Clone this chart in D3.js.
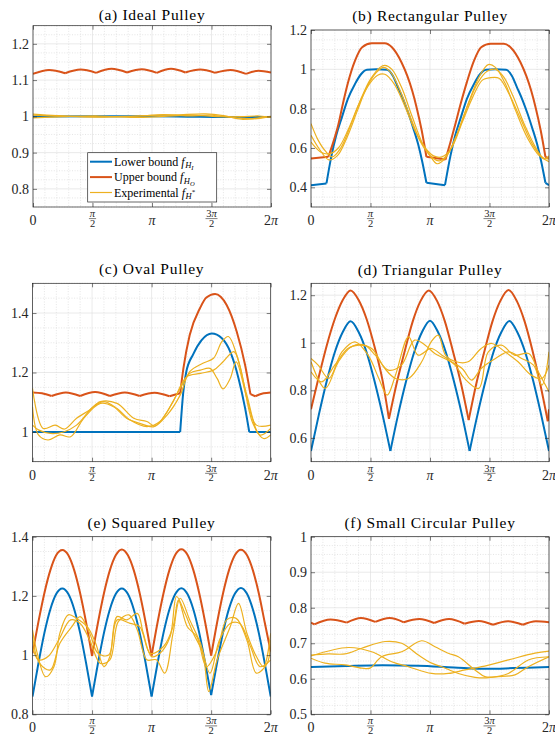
<!DOCTYPE html>
<html>
<head>
<meta charset="utf-8">
<script src="https://cdn.jsdelivr.net/npm/d3@7"></script>
</head>
<body style="margin:0">
<svg id="fig" width="555" height="740" font-family="Liberation Serif"></svg>
<script>
// x values are in units of pi (0..2)
var piTicks = [0, 0.5, 1, 1.5, 2];
var piLabels = [["0"], ["π", "2"], ["π"], ["3π", "2"], ["2π"]];

var titles = ["(a) Ideal Pulley", "(b) Rectangular Pulley", "(c) Oval Pulley",
  "(d) Triangular Pulley", "(e) Squared Pulley", "(f) Small Circular Pulley"];

var yDomains = [[0.75, 1.25], [0.3, 1.2], [0.9, 1.5], [0.5, 1.25], [0.8, 1.4], [0.5, 1]];
var yTicks = [
  [0.8, 0.9, 1, 1.1, 1.2],
  [0.4, 0.6, 0.8, 1, 1.2],
  [1, 1.2, 1.4],
  [0.6, 0.8, 1, 1.2],
  [0.8, 1, 1.2, 1.4],
  [0.5, 0.6, 0.7, 0.8, 0.9, 1]
];
var yMinor = [0.025, 0.05, 0.05, 0.05, 0.05, 0.025];

var legendLabels = ["Lower bound", "Upper bound", "Experimental"];

// (a) ideal
var lowerA = [[[0, 0.999], [0.5, 1.0], [1.0, 1.0], [1.3, 0.999], [1.6, 0.998], [2.0, 0.998]]];
var upperA = [
  [[0, 1.117], [0.135, 1.128], [0.27, 1.119]],
  [[0.27, 1.119], [0.40, 1.129], [0.53, 1.120]],
  [[0.53, 1.120], [0.66, 1.131], [0.79, 1.121]],
  [[0.79, 1.121], [0.915, 1.130], [1.04, 1.120]],
  [[1.04, 1.120], [1.16, 1.131], [1.28, 1.121]],
  [[1.28, 1.121], [1.405, 1.129], [1.53, 1.120]],
  [[1.53, 1.120], [1.66, 1.128], [1.79, 1.117]],
  [[1.79, 1.117], [1.895, 1.126], [2.0, 1.121]]
];
var expA = [
  [[0, 1.006], [0.2, 1.002], [0.5, 0.999], [0.8, 1.0], [1.0, 1.003], [1.2, 1.004], [1.45, 1.007], [1.6, 1.002], [1.75, 0.992], [1.9, 0.996], [2.0, 1.0]],
  [[0, 1.003], [0.3, 1.0], [0.6, 0.998], [0.9, 1.001], [1.1, 1.005], [1.3, 1.001], [1.5, 1.003], [1.7, 0.996], [1.85, 0.993], [2.0, 0.999]],
  [[0, 0.996], [0.25, 0.999], [0.55, 1.001], [0.85, 0.997], [1.1, 1.0], [1.35, 1.003], [1.55, 0.999], [1.75, 0.999], [1.9, 1.001], [2.0, 0.997]]
];

// (b) rectangular
var lowerB = [
  [[0, 0.411], [0.13, 0.42]],
  [[0.13, 0.42], [0.17, 0.555], [0.21, 0.66], [0.26, 0.757], [0.31, 0.85], [0.37, 0.926], [0.42, 0.975], [0.47, 0.998], [0.55, 1.0], [0.64, 0.998], [0.69, 0.965], [0.73, 0.91], [0.78, 0.84], [0.82, 0.774], [0.86, 0.70], [0.90, 0.62], [0.935, 0.53], [0.97, 0.423]],
  [[0.97, 0.423], [1.126, 0.411]],
  [[1.126, 0.411], [1.17, 0.555], [1.21, 0.66], [1.26, 0.757], [1.31, 0.85], [1.37, 0.926], [1.42, 0.975], [1.47, 0.998], [1.55, 1.0], [1.64, 0.998], [1.69, 0.965], [1.73, 0.91], [1.78, 0.84], [1.82, 0.774], [1.86, 0.70], [1.90, 0.62], [1.935, 0.53], [1.97, 0.423]],
  [[1.97, 0.423], [2.0, 0.411]]
];
var upperB = [
  [[0, 0.546], [0.146, 0.555]],
  [[0.146, 0.555], [0.19, 0.635], [0.23, 0.72], [0.27, 0.83], [0.31, 0.93], [0.37, 1.044], [0.43, 1.112], [0.51, 1.132], [0.62, 1.132], [0.68, 1.112], [0.76, 1.036], [0.81, 0.965], [0.85, 0.892], [0.89, 0.80], [0.93, 0.69], [0.97, 0.555]],
  [[0.97, 0.555], [1.13, 0.541]],
  [[1.13, 0.541], [1.17, 0.625], [1.21, 0.715], [1.26, 0.83], [1.31, 0.935], [1.37, 1.044], [1.43, 1.112], [1.51, 1.13], [1.62, 1.13], [1.68, 1.11], [1.76, 1.036], [1.81, 0.965], [1.85, 0.892], [1.89, 0.80], [1.93, 0.69], [1.97, 0.555]],
  [[1.97, 0.555], [2.0, 0.546]]
];
var expB = [
  [[0, 0.724], [0.06, 0.64], [0.12, 0.585], [0.18, 0.555], [0.25, 0.6], [0.33, 0.71], [0.42, 0.85], [0.5, 0.95], [0.58, 1.01], [0.62, 1.02], [0.68, 1.0], [0.76, 0.91], [0.85, 0.76], [0.94, 0.62], [1.02, 0.55], [1.08, 0.535], [1.15, 0.57], [1.24, 0.69], [1.33, 0.84], [1.42, 0.97], [1.49, 1.024], [1.55, 1.01], [1.63, 0.93], [1.72, 0.79], [1.82, 0.65], [1.92, 0.56], [2.0, 0.53]],
  [[0, 0.665], [0.07, 0.595], [0.15, 0.54], [0.22, 0.56], [0.3, 0.65], [0.39, 0.79], [0.47, 0.91], [0.55, 0.985], [0.61, 1.01], [0.67, 0.985], [0.75, 0.89], [0.84, 0.75], [0.93, 0.62], [1.0, 0.56], [1.06, 0.52], [1.13, 0.55], [1.22, 0.66], [1.3, 0.79], [1.4, 0.93], [1.48, 0.99], [1.55, 1.0], [1.62, 0.96], [1.7, 0.86], [1.8, 0.71], [1.9, 0.59], [1.96, 0.545], [2.0, 0.56]],
  [[0, 0.63], [0.08, 0.58], [0.15, 0.57], [0.23, 0.6], [0.31, 0.69], [0.4, 0.82], [0.49, 0.925], [0.56, 0.97], [0.62, 0.975], [0.7, 0.925], [0.79, 0.81], [0.88, 0.68], [0.96, 0.6], [1.03, 0.56], [1.1, 0.555], [1.18, 0.6], [1.27, 0.73], [1.36, 0.86], [1.44, 0.945], [1.5, 0.957], [1.58, 0.955], [1.66, 0.88], [1.76, 0.75], [1.86, 0.62], [1.95, 0.55], [2.0, 0.545]]
];

// (c) oval
var lowerC = [
  [[0, 1.0], [1.24, 1.0]],
  [[1.24, 1.0], [1.265, 1.13], [1.29, 1.2], [1.35, 1.262], [1.42, 1.309], [1.505, 1.331], [1.59, 1.315], [1.66, 1.27], [1.73, 1.18], [1.785, 1.08], [1.82, 1.0]],
  [[1.82, 1.0], [2.0, 1.0]]
];
var upperC = [
  [[0, 1.133], [0.08, 1.13], [0.16, 1.121]],
  [[0.16, 1.121], [0.28, 1.133], [0.4, 1.121]],
  [[0.4, 1.121], [0.525, 1.134], [0.65, 1.121]],
  [[0.65, 1.121], [0.775, 1.133], [0.9, 1.121]],
  [[0.9, 1.121], [1.025, 1.132], [1.15, 1.12]],
  [[1.15, 1.12], [1.2, 1.126], [1.24, 1.13]],
  [[1.24, 1.13], [1.267, 1.214], [1.32, 1.326], [1.407, 1.417], [1.46, 1.452], [1.533, 1.464], [1.58, 1.455], [1.63, 1.427], [1.715, 1.337], [1.785, 1.225], [1.83, 1.127]],
  [[1.83, 1.127], [1.87, 1.12]],
  [[1.87, 1.12], [1.94, 1.13], [2.0, 1.133]]
];
var expC = [
  [[0, 1.147], [0.09, 1.012], [0.19, 1.023], [0.27, 1.01], [0.37, 1.046], [0.48, 1.074], [0.57, 1.102], [0.71, 1.096], [0.85, 1.046], [0.96, 1.035], [1.03, 1.02], [1.13, 1.068], [1.24, 1.147], [1.32, 1.197], [1.41, 1.208], [1.49, 1.214], [1.55, 1.18], [1.6, 1.145], [1.66, 1.18], [1.71, 1.236], [1.8, 1.113], [1.88, 1.023], [2.0, 1.023]],
  [[0, 1.085], [0.05, 0.99], [0.13, 0.973], [0.23, 0.99], [0.32, 0.984], [0.43, 1.046], [0.57, 1.096], [0.68, 1.085], [0.79, 1.046], [0.9, 1.029], [1.02, 1.018], [1.13, 1.057], [1.24, 1.124], [1.32, 1.203], [1.43, 1.231], [1.52, 1.248], [1.59, 1.304], [1.645, 1.321], [1.715, 1.259], [1.8, 1.124], [1.91, 0.99], [2.0, 1.012]],
  [[0, 1.023], [0.05, 1.007], [0.15, 0.995], [0.26, 1.0], [0.37, 1.023], [0.51, 1.085], [0.6, 1.102], [0.71, 1.079], [0.82, 1.04], [0.96, 1.018], [1.07, 1.035], [1.18, 1.102], [1.295, 1.186], [1.41, 1.197], [1.52, 1.208], [1.6, 1.236], [1.69, 1.27], [1.74, 1.225], [1.85, 1.029], [1.94, 0.978], [2.0, 0.99]]
];

// (d) triangular
var lowerD = [
  [[0, 0.545], [0.067, 0.70], [0.133, 0.84], [0.2, 0.96], [0.267, 1.045], [0.333, 1.09], [0.4, 1.045], [0.467, 0.96], [0.533, 0.84], [0.6, 0.70], [0.667, 0.545]],
  [[0.667, 0.545], [0.733, 0.70], [0.8, 0.84], [0.867, 0.96], [0.933, 1.045], [1.0, 1.093], [1.067, 1.045], [1.133, 0.96], [1.2, 0.84], [1.267, 0.70], [1.333, 0.545]],
  [[1.333, 0.545], [1.4, 0.70], [1.467, 0.84], [1.533, 0.96], [1.6, 1.045], [1.667, 1.092], [1.733, 1.045], [1.8, 0.96], [1.867, 0.84], [1.933, 0.70], [2.0, 0.545]]
];
var upperD = [
  [[0, 0.72], [0.067, 0.86], [0.133, 0.99], [0.2, 1.1], [0.267, 1.18], [0.333, 1.22], [0.4, 1.18], [0.467, 1.1], [0.533, 0.985], [0.6, 0.845], [0.655, 0.68]],
  [[0.655, 0.68], [0.72, 0.83], [0.79, 0.97], [0.855, 1.09], [0.92, 1.175], [0.99, 1.22], [1.06, 1.175], [1.125, 1.09], [1.19, 0.97], [1.26, 0.83], [1.325, 0.675]],
  [[1.325, 0.675], [1.39, 0.83], [1.46, 0.97], [1.525, 1.09], [1.59, 1.175], [1.66, 1.222], [1.73, 1.175], [1.795, 1.09], [1.86, 0.97], [1.925, 0.83], [1.99, 0.67]],
  [[1.99, 0.67], [2.0, 0.72]]
];
var expD = [
  [[0, 0.934], [0.06, 0.906], [0.15, 0.85], [0.26, 0.962], [0.37, 1.004], [0.48, 0.948], [0.57, 0.85], [0.64, 0.78], [0.71, 0.864], [0.82, 1.025], [0.9, 0.948], [1.01, 0.976], [1.1, 0.948], [1.21, 0.906], [1.29, 0.85], [1.41, 0.808], [1.49, 0.962], [1.6, 0.99], [1.71, 0.948], [1.83, 0.955], [1.91, 0.878], [2.0, 0.794]],
  [[0, 0.878], [0.09, 0.836], [0.2, 0.906], [0.31, 0.976], [0.4, 0.99], [0.51, 0.976], [0.62, 0.892], [0.71, 0.85], [0.82, 0.85], [0.93, 0.92], [1.01, 1.004], [1.07, 1.032], [1.13, 0.948], [1.22, 0.92], [1.32, 0.92], [1.43, 0.976], [1.52, 0.997], [1.63, 0.962], [1.74, 0.92], [1.85, 0.864], [1.94, 0.85], [2.0, 0.906]],
  [[0, 0.92], [0.12, 0.808], [0.23, 0.92], [0.34, 0.983], [0.45, 0.99], [0.54, 0.948], [0.65, 0.885], [0.76, 0.906], [0.87, 1.011], [0.96, 0.99], [1.04, 0.955], [1.15, 0.927], [1.27, 0.892], [1.35, 0.843], [1.43, 0.892], [1.55, 0.934], [1.66, 0.962], [1.77, 0.934], [1.87, 0.906], [1.94, 0.822], [2.0, 0.962]]
];

// (e) squared
var lowerE = [
  [[0, 0.86], [0.05, 0.973], [0.1, 1.075], [0.15, 1.155], [0.2, 1.207], [0.25, 1.225], [0.3, 1.207], [0.35, 1.155], [0.4, 1.075], [0.45, 0.973], [0.5, 0.86]],
  [[0.5, 0.86], [0.55, 0.973], [0.6, 1.075], [0.65, 1.155], [0.7, 1.207], [0.75, 1.225], [0.8, 1.207], [0.85, 1.155], [0.9, 1.075], [0.95, 0.973], [1.0, 0.86]],
  [[1.0, 0.86], [1.05, 0.973], [1.1, 1.075], [1.15, 1.155], [1.2, 1.207], [1.25, 1.226], [1.3, 1.207], [1.35, 1.155], [1.4, 1.075], [1.45, 0.973], [1.5, 0.865]],
  [[1.5, 0.865], [1.55, 0.975], [1.6, 1.077], [1.65, 1.157], [1.7, 1.208], [1.75, 1.227], [1.8, 1.208], [1.85, 1.155], [1.9, 1.075], [1.95, 0.973], [2.0, 0.86]]
];
var upperE = [
  [[0, 1.006], [0.05, 1.113], [0.1, 1.21], [0.15, 1.287], [0.2, 1.338], [0.25, 1.355], [0.3, 1.338], [0.35, 1.287], [0.4, 1.209], [0.45, 1.11], [0.5, 0.997]],
  [[0.5, 0.997], [0.55, 1.11], [0.6, 1.209], [0.65, 1.287], [0.7, 1.338], [0.75, 1.357], [0.8, 1.338], [0.85, 1.287], [0.9, 1.209], [0.95, 1.11], [1.0, 0.998]],
  [[1.0, 0.998], [1.05, 1.11], [1.1, 1.209], [1.15, 1.288], [1.2, 1.34], [1.25, 1.358], [1.3, 1.34], [1.35, 1.288], [1.4, 1.209], [1.45, 1.11], [1.5, 0.998]],
  [[1.5, 0.998], [1.55, 1.11], [1.6, 1.209], [1.65, 1.287], [1.7, 1.338], [1.75, 1.356], [1.8, 1.338], [1.85, 1.287], [1.9, 1.209], [1.95, 1.11], [2.0, 1.012]]
];
var expE = [
  [[0, 1.085], [0.04, 1.006], [0.11, 0.927], [0.18, 0.961], [0.23, 1.074], [0.3, 1.136], [0.37, 1.124], [0.46, 1.096], [0.53, 1.04], [0.6, 0.961], [0.65, 0.995], [0.71, 1.13], [0.79, 1.119], [0.88, 1.141], [0.93, 1.074], [1.0, 0.995], [1.07, 1.006], [1.155, 1.062], [1.21, 1.198], [1.28, 1.141], [1.35, 1.074], [1.43, 1.006], [1.48, 0.877], [1.55, 0.984], [1.66, 1.096], [1.73, 1.175], [1.8, 1.074], [1.88, 0.995], [1.94, 0.961], [2.0, 1.074]],
  [[0, 1.062], [0.06, 0.972], [0.15, 0.95], [0.23, 1.04], [0.33, 1.096], [0.4, 1.13], [0.48, 1.074], [0.55, 1.006], [0.64, 1.0], [0.71, 1.119], [0.82, 1.107], [0.9, 1.096], [0.99, 1.006], [1.1, 1.029], [1.18, 1.096], [1.225, 1.186], [1.3, 1.096], [1.38, 1.062], [1.46, 0.961], [1.55, 1.017], [1.63, 1.119], [1.71, 1.124], [1.8, 1.051], [1.88, 0.939], [1.97, 0.972], [2.0, 1.051]],
  [[0, 1.029], [0.05, 0.984], [0.13, 0.995], [0.22, 1.051], [0.32, 1.119], [0.4, 1.107], [0.48, 1.051], [0.57, 0.972], [0.65, 0.984], [0.72, 1.113], [0.81, 1.136], [0.88, 1.085], [0.96, 0.984], [1.04, 0.984], [1.11, 0.939], [1.18, 1.074], [1.24, 1.192], [1.32, 1.119], [1.41, 1.04], [1.49, 0.939], [1.57, 1.051], [1.66, 1.107], [1.74, 1.107], [1.83, 1.029], [1.91, 0.961], [2.0, 0.984]]
];

// (f) small circular
var lowerF = [[[0, 0.633], [0.3, 0.636], [0.6, 0.638], [0.9, 0.637], [1.2, 0.632], [1.5, 0.628], [1.7, 0.63], [2.0, 0.633]]];
var upperF = [
  [[0, 0.758], [0.028, 0.753]],
  [[0.028, 0.753], [0.164, 0.767], [0.3, 0.758]],
  [[0.3, 0.758], [0.42, 0.771], [0.54, 0.76]],
  [[0.54, 0.76], [0.66, 0.771], [0.78, 0.759]],
  [[0.78, 0.759], [0.91, 0.768], [1.035, 0.757]],
  [[1.035, 0.757], [1.16, 0.768], [1.29, 0.755]],
  [[1.29, 0.755], [1.41, 0.763], [1.53, 0.752]],
  [[1.53, 0.752], [1.655, 0.762], [1.78, 0.752]],
  [[1.78, 0.752], [1.89, 0.762], [2.0, 0.759]]
];
var expF = [
  [[0, 0.664], [0.314, 0.688], [0.51, 0.676], [0.678, 0.648], [0.818, 0.634], [1.014, 0.615], [1.154, 0.615], [1.294, 0.625], [1.434, 0.634], [1.658, 0.653], [1.882, 0.672], [2.0, 0.678]],
  [[0, 0.667], [0.146, 0.67], [0.286, 0.67], [0.426, 0.686], [0.622, 0.705], [0.762, 0.7], [0.902, 0.667], [1.014, 0.644], [1.098, 0.634], [1.238, 0.615], [1.378, 0.604], [1.49, 0.603], [1.658, 0.615], [1.826, 0.653], [2.0, 0.662]],
  [[0, 0.658], [0.118, 0.644], [0.286, 0.639], [0.426, 0.63], [0.496, 0.63], [0.594, 0.662], [0.762, 0.676], [0.93, 0.707], [1.042, 0.69], [1.154, 0.672], [1.238, 0.662], [1.378, 0.625], [1.462, 0.606], [1.574, 0.606], [1.714, 0.611], [1.826, 0.634], [2.0, 0.662]]
];

var lowers = [lowerA, lowerB, lowerC, lowerD, lowerE, lowerF];
var uppers = [upperA, upperB, upperC, upperD, upperE, upperF];
var exps = [expA, expB, expC, expD, expE, expF];

var boxes = [
  {l: 33, r: 271, t: 25.7, b: 207, tt: 19.5},
  {l: 311, r: 549, t: 30, b: 207, tt: 21},
  {l: 32.5, r: 270.7, t: 283.3, b: 461.7, tt: 274},
  {l: 311, r: 549, t: 283.3, b: 461.7, tt: 275},
  {l: 32.5, r: 270.7, t: 536.7, b: 714.3, tt: 527.5},
  {l: 311, r: 549, t: 536.7, b: 714.3, tt: 527.5}
];

var blue = '#0072BD', orange = '#D95319', yellow = '#EDB120', ink = '#262626';
var serif = "'Liberation Serif'";

var svg = d3.select('#fig');

function piText(sel, s) {
  // roman digits, italic pi
  s.split(/(π)/).forEach(function(part) {
    if (!part) return;
    var t = sel.append('tspan').text(part);
    if (part === 'π') t.style('font-style', 'italic');
  });
}

function drawPanel(i) {
  var bx = boxes[i];
  var x = d3.scaleLinear().domain([0, 2]).range([bx.l, bx.r]);
  var y = d3.scaleLinear().domain(yDomains[i]).range([bx.b, bx.t]);
  var g = svg.append('g');

  g.append('clipPath').attr('id', 'clip' + i)
    .append('rect')
    .attr('x', bx.l).attr('y', bx.t)
    .attr('width', bx.r - bx.l).attr('height', bx.b - bx.t);

  // minor grid
  var xMin = d3.range(0, 21).filter(function(k) { return k % 5 !== 0; })
    .map(function(k) { return k / 10; });
  var d0 = yDomains[i][0], d1 = yDomains[i][1];
  var nMin = Math.round((d1 - d0) / yMinor[i]);
  var yMin = d3.range(0, nMin + 1).map(function(k) { return d0 + k * yMinor[i]; })
    .filter(function(v) {
      return !yTicks[i].some(function(t) { return Math.abs(t - v) < 1e-6; });
    });

  g.selectAll('.xminor').data(xMin).enter().append('line')
    .attr('x1', function(d) { return x(d); }).attr('x2', function(d) { return x(d); })
    .attr('y1', bx.t).attr('y2', bx.b)
    .attr('stroke', '#d4d4d4').attr('stroke-width', 0.6).attr('stroke-dasharray', '1,1.6');
  g.selectAll('.yminor').data(yMin).enter().append('line')
    .attr('x1', bx.l).attr('x2', bx.r)
    .attr('y1', function(d) { return y(d); }).attr('y2', function(d) { return y(d); })
    .attr('stroke', '#d4d4d4').attr('stroke-width', 0.6).attr('stroke-dasharray', '1,1.6');

  // major grid
  g.selectAll('.xmajor').data(piTicks).enter().append('line')
    .attr('x1', function(d) { return x(d); }).attr('x2', function(d) { return x(d); })
    .attr('y1', bx.t).attr('y2', bx.b)
    .attr('stroke', '#dcdcdc').attr('stroke-width', 0.6);
  g.selectAll('.ymajor').data(yTicks[i]).enter().append('line')
    .attr('x1', bx.l).attr('x2', bx.r)
    .attr('y1', function(d) { return y(d); }).attr('y2', function(d) { return y(d); })
    .attr('stroke', '#dcdcdc').attr('stroke-width', 0.6);

  // curves
  var boundLine = d3.line()
    .x(function(d) { return x(d[0]); })
    .y(function(d) { return y(d[1]); })
    .curve(d3.curveMonotoneX);
  var expLine = d3.line()
    .x(function(d) { return x(d[0]); })
    .y(function(d) { return y(d[1]); })
    .curve(d3.curveCatmullRom);

  var plot = g.append('g').attr('clip-path', 'url(#clip' + i + ')');
  plot.selectAll('.lower').data(lowers[i]).enter().append('path')
    .attr('d', boundLine).attr('fill', 'none')
    .attr('stroke', blue).attr('stroke-width', 2).attr('stroke-linejoin', 'round');
  plot.selectAll('.upper').data(uppers[i]).enter().append('path')
    .attr('d', boundLine).attr('fill', 'none')
    .attr('stroke', orange).attr('stroke-width', 2).attr('stroke-linejoin', 'round');
  plot.selectAll('.exp').data(exps[i]).enter().append('path')
    .attr('d', expLine).attr('fill', 'none')
    .attr('stroke', yellow).attr('stroke-width', 1.2);

  // axes with inward ticks on all sides
  var fmt = d3.format('~g');
  var yl = g.append('g').attr('transform', 'translate(' + bx.l + ',0)')
    .call(d3.axisLeft(y).tickValues(yTicks[i]).tickSize(-4).tickPadding(4).tickFormat(fmt));
  var yr = g.append('g').attr('transform', 'translate(' + bx.r + ',0)')
    .call(d3.axisRight(y).tickValues(yTicks[i]).tickSize(-4).tickFormat(''));
  var xb = g.append('g').attr('transform', 'translate(0,' + bx.b + ')')
    .call(d3.axisBottom(x).tickValues(piTicks).tickSize(-4).tickFormat(''));
  var xt = g.append('g').attr('transform', 'translate(0,' + bx.t + ')')
    .call(d3.axisTop(x).tickValues(piTicks).tickSize(-4).tickFormat(''));
  [yl, yr, xb, xt].forEach(function(a) {
    a.attr('font-family', null).attr('font-size', null);
    a.select('.domain').remove();
    a.selectAll('line').attr('stroke', ink).attr('stroke-width', 0.6);
    a.selectAll('text').attr('fill', ink).style('font-size', '14px');
  });

  g.append('rect')
    .attr('x', bx.l).attr('y', bx.t)
    .attr('width', bx.r - bx.l).attr('height', bx.b - bx.t)
    .attr('fill', 'none').attr('stroke', ink).attr('stroke-width', 0.7);

  // x tick labels with fractions of pi
  piTicks.forEach(function(t, k) {
    var lab = piLabels[k], px = x(t);
    if (lab.length === 1) {
      var tx = g.append('text').attr('x', px).attr('y', bx.b + 18)
        .attr('text-anchor', 'middle').attr('fill', ink).style('font-size', '14px');
      piText(tx, lab[0]);
    } else {
      var num = g.append('text').attr('x', px).attr('y', bx.b + 9.8)
        .attr('text-anchor', 'middle').attr('fill', ink).style('font-size', '10.5px');
      piText(num, lab[0]);
      var hw = lab[0].length > 1 ? 6 : 3.6;
      g.append('line').attr('x1', px - hw).attr('x2', px + hw)
        .attr('y1', bx.b + 11.6).attr('y2', bx.b + 11.6)
        .attr('stroke', ink).attr('stroke-width', 0.6);
      g.append('text').attr('x', px).attr('y', bx.b + 19.5)
        .attr('text-anchor', 'middle').attr('fill', ink).style('font-size', '10.5px')
        .text(lab[1]);
    }
  });

  g.append('text')
    .attr('x', (bx.l + bx.r) / 2).attr('y', bx.tt)
    .attr('text-anchor', 'middle').attr('fill', '#000')
    .style('font-size', '15.5px').style('letter-spacing', '0.7px')
    .text(titles[i]);
}

d3.range(6).forEach(drawPanel);

// legend in panel (a)
var lg = svg.append('g');
lg.append('rect').attr('x', 87.7).attr('y', 152.7).attr('width', 129).attr('height', 49.3)
  .attr('fill', '#fff').attr('stroke', ink).attr('stroke-width', 0.7);
var legColors = [blue, orange, yellow];
var legWidths = [2, 2, 1.2];
var legSubs = ['I', 'O', '*'];
legendLabels.forEach(function(lab, k) {
  var cy = 161.7 + k * 15.4;
  lg.append('line').attr('x1', 90).attr('x2', 112).attr('y1', cy).attr('y2', cy)
    .attr('stroke', legColors[k]).attr('stroke-width', legWidths[k]);
  var t = lg.append('text').attr('x', 114).attr('y', cy + 4)
    .attr('fill', '#000').style('font-size', '12px');
  t.append('tspan').text(lab + ' ');
  t.append('tspan').style('font-style', 'italic').text('f');
  t.append('tspan').style('font-style', 'italic').style('font-size', '8.5px')
    .attr('dy', 2.5).attr('dx', 0.5).text('H');
  if (legSubs[k] === '*') {
    t.append('tspan').style('font-size', '7px').attr('dy', -5).text('*');
  } else {
    t.append('tspan').style('font-style', 'italic').style('font-size', '6.5px')
      .attr('dy', 2).text(legSubs[k]);
  }
});

// serif face on every label
svg.selectAll('text, tspan').attr('font-family', 'Liberation Serif').style('font-family', serif);
</script>
</body>
</html>
